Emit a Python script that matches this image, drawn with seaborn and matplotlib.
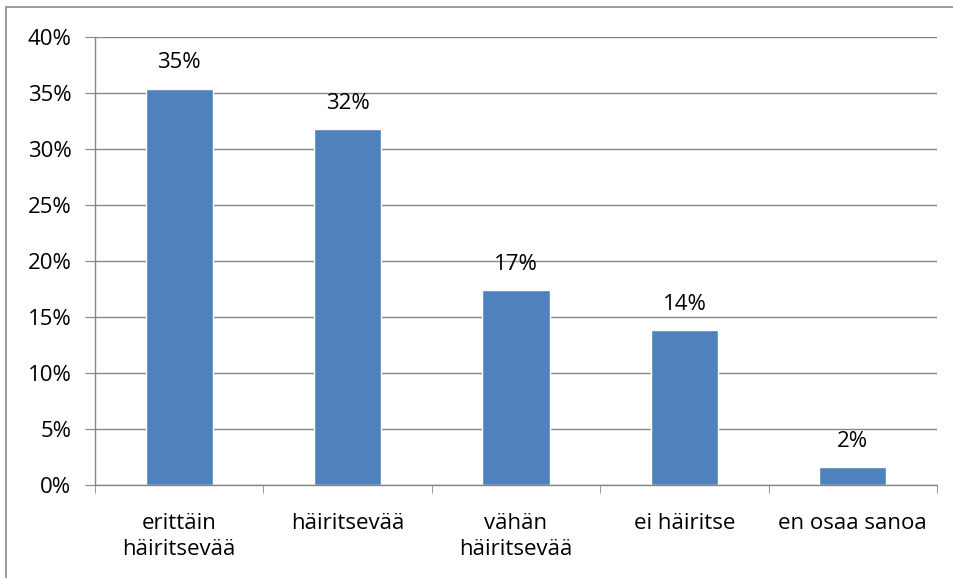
import matplotlib
matplotlib.use("Agg")
import matplotlib.pyplot as plt
import seaborn as sns
import pandas as pd
import numpy as np
from matplotlib.ticker import FixedLocator, PercentFormatter
from matplotlib.patches import Rectangle

categories = ["erittäin\nhäiritsevää", "häiritsevää", "vähän\nhäiritsevää", "ei häiritse", "en osaa sanoa"]
values = [35.4, 31.8, 17.4, 13.8, 1.6]
value_labels = ["35%", "32%", "17%", "14%", "2%"]
yticks = [0, 5, 10, 15, 20, 25, 30, 35, 40]

sns.set_style("white")
plt.rcParams["font.family"] = ["Open Sans", "DejaVu Sans"]
plt.rcParams["text.color"] = "black"

df = pd.DataFrame({"cat": categories, "val": values})

fig = plt.figure(figsize=(9.54, 5.78), dpi=100)
ax = fig.add_axes([95/954, 1-485/578, (937-95)/954, (485-37)/578])

sns.barplot(data=df, x="cat", y="val", color="#4F81BD", saturation=1, width=0.4, ax=ax, zorder=3)

grid_c = "#878787"
ax.set_ylim(0, 40)
ax.set_xlim(-0.5, len(categories) - 0.5)
ax.set_yticks(yticks)
ax.yaxis.set_major_formatter(PercentFormatter(decimals=0))
ax.grid(axis="y", color=grid_c, linewidth=1, zorder=0)
ax.set_axisbelow(True)
for s in ["top", "right"]:
    ax.spines[s].set_visible(False)
for s in ["left", "bottom"]:
    ax.spines[s].set_color(grid_c)
    ax.spines[s].set_linewidth(1)
    ax.spines[s].set_zorder(4)

fs = 16
ax.tick_params(axis="y", length=7, color=grid_c, labelsize=fs, pad=10, left=True, labelcolor="black")
ax.tick_params(axis="x", which="major", length=0, labelsize=fs, pad=20, labelcolor="black")
ax.xaxis.set_minor_locator(FixedLocator(np.arange(-0.5, len(categories), 1.0)))
ax.tick_params(axis="x", which="minor", length=6, color=grid_c, bottom=True)
ax.set_xlabel("")
ax.set_ylabel("")
for lab in ax.get_xticklabels():
    lab.set_linespacing(1.35)

for p, txt in zip(ax.patches, value_labels):
    ax.annotate(txt, (p.get_x() + p.get_width() / 2, p.get_height()),
                xytext=(0, 11), textcoords="offset points",
                ha="center", va="bottom", fontsize=fs, color="black")

fig.patches.append(Rectangle((6/954, -0.1), 1.2, 1 - 7/578 + 0.1, transform=fig.transFigure,
                             fill=False, edgecolor="#8c8c8c", linewidth=1.2))

fig.savefig("out.png", dpi=100)
